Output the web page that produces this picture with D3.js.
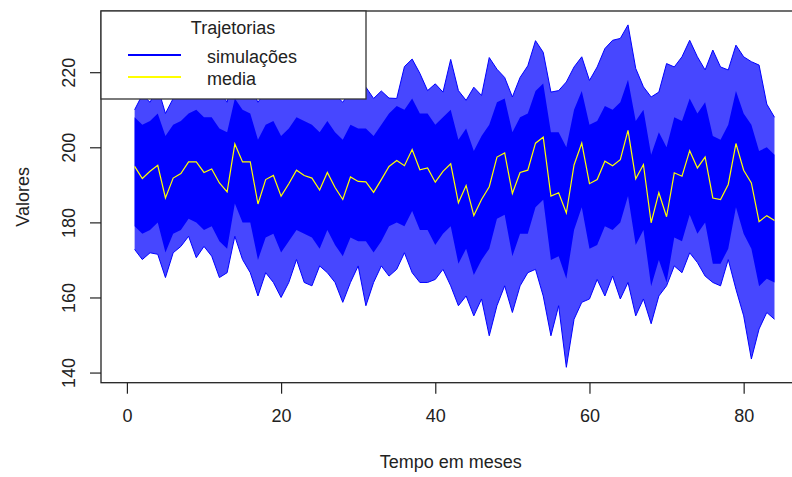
<!DOCTYPE html>
<html>
<head>
<meta charset="utf-8">
<script src="https://cdn.jsdelivr.net/npm/d3@7"></script>
<style>
  body { margin: 0; background: #fff; }
  svg text { font-family: "Liberation Sans", Arial, sans-serif; fill: #222; }
</style>
</head>
<body>
<script>
// meses 1..84
const meses = d3.range(1, 85);

// media das simulacoes (linha amarela)
const media = [194.9,191.7,193.6,195.2,186.5,191.8,193.0,196.1,196.1,193.3,
  194.2,190.5,188.1,200.9,196.1,196.1,184.9,191.4,192.5,187.0,
  190.3,193.9,192.5,191.8,188.6,193.3,189.3,186.1,192.1,190.9,
  190.8,188.0,191.4,194.9,196.5,195.1,199.4,194.0,194.5,190.7,
  193.6,195.6,185.2,189.8,181.8,186.1,189.5,197.4,198.5,187.7,
  193.3,193.9,201.1,202.7,187.0,187.9,182.5,195.3,201.1,190.3,
  191.4,196.3,195.1,196.7,204.5,191.6,195.4,179.9,187.9,181.5,
  193.2,192.3,199.1,194.5,197.4,186.5,186.1,190.1,201.0,193.9,
  190.5,180.2,181.8,180.5];

// maior e menor valor das trajetorias em cada mes
const limiteSup = [210,214,212,216,209,213,215,217,214,216,
  213,215,212,222,218,216,212,215,217,213,
  215,218,216,214,213,216,214,212,215,214,
  216,213,215,213.1,213,221.5,223.5,219.7,215.1,216.9,
  214.7,223.4,215.1,212.5,216,213.8,223.9,220.8,218.6,213.4,
  218.6,221.7,228.4,225.3,214.7,215.1,217.4,221.4,224.1,217.8,
  221.4,226.3,228.5,229,232.6,221,216.1,213.4,214.7,222.3,
  221.4,224.1,228.5,224.1,220.6,225.9,221.4,220.6,227.2,224.1,
  222.8,221.9,211.5,208];
const limiteInf = [172.8,170.1,171.9,171.5,165.3,171.9,173.6,176.3,170.6,173.6,
  171,165.3,166.6,176.3,170.1,166.6,160.4,166.6,164,160,
  164,170.1,164,163.1,168.4,166.6,164,158.7,164,168.4,
  157.8,164,168.4,165.7,167.5,171.9,166.6,164,164,164.8,
  167.5,163.1,157.8,160.4,155.1,159.6,149.8,157.8,163.1,156,
  163.1,166.6,167.5,160.4,149.8,157.8,141.4,154.2,158.7,159.6,
  164.8,160.4,165.7,159.6,164,155.1,159.6,153,160.4,163.1,
  168.4,166.6,171.9,169.3,165.7,164,163.1,170.1,162.2,155.1,
  143.6,151.6,156,154.2];

// faixa densa onde as trajetorias quase cobrem tudo
const nucleoSup = [208,206,207,209,203,206,207,209,210,208,
  208,205,204,213,210,209,202,206,207,203,
  205,208,207,206,204,207,204,202,206,205,
  205,203,206,209,211,210,213,209,209,206,
  208,210,202,205,199,203,206,212,213,204,
  208,209,215,217,204,204,200,210,215,206,
  207,211,210,212,218,207,210,198,204,200,
  208,207,213,209,212,203,202,206,215,209,
  206,199,200,198];
const nucleoInf = [179,177,178,180,172,177,178,181,180,178,
  179,175,173,185,180,180,170,176,177,172,
  175,178,177,176,173,178,174,171,176,175,
  175,172,175,179,180,179,183,178,178,174,
  177,179,169,173,166,170,173,181,182,171,
  177,177,184,186,170,171,165,178,184,173,
  174,179,178,180,187,174,178,163,170,164,
  176,175,182,177,180,169,169,173,184,177,
  173,163,165,164];

const xTicks = [0, 20, 40, 60, 80];
const yTicks = [140, 160, 180, 200, 220];

const data = meses.map((m, i) => ({
  mes: m,
  media: media[i],
  sup: limiteSup[i],
  inf: limiteInf[i],
  nSup: nucleoSup[i],
  nInf: nucleoInf[i]
}));

const width = 792, height = 477;
const plot = { left: 101, right: 800.4, top: 11, bottom: 382.7 };

const svg = d3.select("body").append("svg")
  .attr("width", width)
  .attr("height", height);

const x = d3.scaleLinear()
  .domain([-3.36, 87.36])
  .range([plot.left, plot.right]);

const y = d3.scaleLinear()
  .domain([137.3, 236.3])
  .range([plot.bottom, plot.top]);

svg.append("clipPath").attr("id", "clip")
  .append("rect")
  .attr("x", plot.left).attr("y", plot.top)
  .attr("width", plot.right - plot.left)
  .attr("height", plot.bottom - plot.top);

const g = svg.append("g").attr("clip-path", "url(#clip)");

// faixa externa (linhas esparsas)
g.append("path")
  .datum(data)
  .attr("fill", "#0000ff")
  .attr("fill-opacity", 0.72)
  .attr("d", d3.area().x(d => x(d.mes)).y0(d => y(d.inf)).y1(d => y(d.sup)));

// nucleo denso
g.append("path")
  .datum(data)
  .attr("fill", "#0000ff")
  .attr("d", d3.area().x(d => x(d.mes)).y0(d => y(d.nInf)).y1(d => y(d.nSup)));

["sup", "inf"].forEach(k => {
  g.append("path")
    .datum(data)
    .attr("fill", "none")
    .attr("stroke", "#0000ff")
    .attr("stroke-width", 1)
    .attr("d", d3.line().x(d => x(d.mes)).y(d => y(d[k])));
});

g.append("path")
  .datum(data)
  .attr("fill", "none")
  .attr("stroke", "#ffff00")
  .attr("stroke-width", 1.2)
  .attr("d", d3.line().x(d => x(d.mes)).y(d => y(d.media)));

// eixos
const xAxis = svg.append("g")
  .attr("transform", `translate(0,${plot.bottom})`)
  .call(d3.axisBottom(x).tickValues(xTicks).tickSize(11).tickPadding(16));
const yAxis = svg.append("g")
  .attr("transform", `translate(${plot.left},0)`)
  .call(d3.axisLeft(y).tickValues(yTicks).tickSize(11));

[xAxis, yAxis].forEach(a => {
  a.select(".domain").remove();
  a.selectAll("line").attr("stroke", "#222").attr("stroke-width", 1.2);
  a.selectAll("text").style("font-size", "18px").attr("fill", "#222");
});
xAxis.selectAll("text").attr("dy", "0.71em");

yAxis.selectAll("text")
  .attr("x", null).attr("dy", null)
  .attr("text-anchor", "middle")
  .attr("transform", "translate(-26,0) rotate(-90)");

// caixa
svg.append("rect")
  .attr("x", plot.left).attr("y", plot.top)
  .attr("width", plot.right - plot.left)
  .attr("height", plot.bottom - plot.top)
  .attr("fill", "none")
  .attr("stroke", "#222")
  .attr("stroke-width", 1.3);

svg.append("text")
  .attr("x", (plot.left + plot.right) / 2)
  .attr("y", 468)
  .attr("text-anchor", "middle")
  .style("font-size", "18px")
  .text("Tempo em meses");

svg.append("text")
  .attr("transform", `translate(29,${(plot.top + plot.bottom) / 2}) rotate(-90)`)
  .attr("text-anchor", "middle")
  .style("font-size", "18px")
  .text("Valores");

// legenda
const legenda = [
  { nome: "simulações", cor: "#0000ff", y: 55 },
  { nome: "media", cor: "#ffff00", y: 77 }
];
const leg = svg.append("g");
leg.append("rect")
  .attr("x", plot.left).attr("y", plot.top)
  .attr("width", 265).attr("height", 88)
  .attr("fill", "#fff")
  .attr("stroke", "#333")
  .attr("stroke-width", 1.3);
leg.append("text")
  .attr("x", 233).attr("y", 33.5)
  .attr("text-anchor", "middle")
  .style("font-size", "18px")
  .text("Trajetorias");
leg.selectAll(".item")
  .data(legenda)
  .join("g")
  .attr("class", "item")
  .each(function (d) {
    const it = d3.select(this);
    it.append("line")
      .attr("x1", 128).attr("x2", 181)
      .attr("y1", d.y).attr("y2", d.y)
      .attr("stroke", d.cor).attr("stroke-width", 2);
    it.append("text")
      .attr("x", 207).attr("y", d.y + 7.5)
      .style("font-size", "18px")
      .text(d.nome);
  });
</script>
</body>
</html>
